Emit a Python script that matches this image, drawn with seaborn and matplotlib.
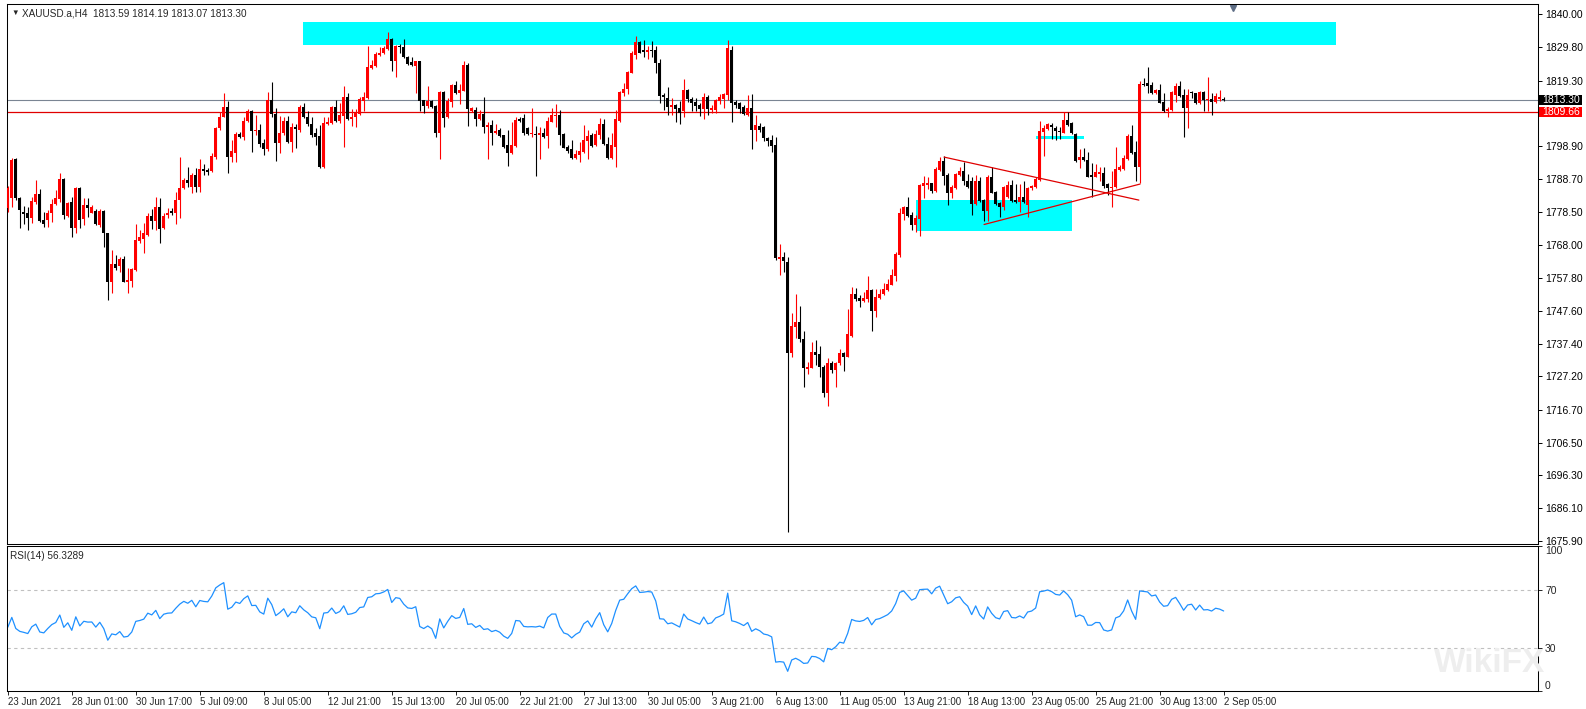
"""XAUUSD.a H4 candles with RSI(14), MetaTrader style."""

import matplotlib.pyplot as plt
import matplotlib.transforms as mtransforms
import numpy as np
import pandas as pd
import seaborn as sns
from matplotlib.patches import Rectangle

# H4 bars, 23 Jun 2021 .. 2 Sep 2021 05:00
opens = [
    1779.5, 1782.6, 1794.8, 1782.9, 1778.5, 1778.0, 1776.4, 1781.6, 1784.0, 1775.9,
    1775.9, 1778.0, 1780.9, 1782.5, 1788.7, 1777.1, 1781.6, 1773.5, 1786.0, 1776.1,
    1780.6, 1778.2, 1778.8, 1774.3, 1778.7, 1771.7, 1756.7, 1762.1, 1761.7, 1763.7,
    1756.7, 1756.9, 1760.3, 1769.5, 1770.1, 1771.2, 1777.1, 1775.7, 1780.1, 1773.5,
    1777.5, 1778.7, 1778.0, 1782.1, 1785.8, 1788.4, 1786.3, 1789.9, 1786.3, 1791.8,
    1791.5, 1791.3, 1795.6, 1804.5, 1807.9, 1811.2, 1795.6, 1796.7, 1802.7, 1801.8,
    1806.7, 1809.8, 1803.5, 1803.9, 1799.8, 1798.1, 1813.3, 1808.8, 1800.0, 1802.9,
    1806.7, 1800.3, 1804.9, 1803.9, 1811.2, 1807.9, 1805.8, 1802.9, 1802.0, 1792.5,
    1805.8, 1806.0, 1811.0, 1806.7, 1808.3, 1814.1, 1807.5, 1807.9, 1808.9, 1813.0,
    1813.8, 1823.4, 1823.9, 1827.2, 1827.8, 1829.2, 1832.3, 1825.5, 1830.2, 1829.7,
    1826.8, 1825.2, 1824.0, 1825.4, 1813.3, 1811.5, 1813.1, 1811.4, 1803.1, 1815.8,
    1807.9, 1812.8, 1817.9, 1815.6, 1816.2, 1824.2, 1810.0, 1810.2, 1807.3, 1808.9,
    1805.0, 1805.5, 1802.9, 1803.9, 1802.4, 1799.3, 1796.7, 1799.1, 1807.5, 1807.6,
    1804.5, 1802.6, 1802.7, 1802.5, 1802.9, 1802.1, 1806.5, 1808.4, 1808.6, 1802.7,
    1798.7, 1797.9, 1795.1, 1796.1, 1797.2, 1800.6, 1802.3, 1799.3, 1802.4, 1805.8,
    1799.6, 1795.1, 1798.7, 1806.8, 1815.6, 1816.6, 1821.8, 1827.4, 1831.3, 1828.9,
    1828.3, 1828.9, 1828.9, 1824.7, 1814.8, 1813.8, 1811.2, 1811.7, 1810.7, 1810.0,
    1816.4, 1813.5, 1812.8, 1811.7, 1810.5, 1814.1, 1810.2, 1810.2, 1813.1, 1813.6,
    1814.8, 1828.9, 1812.7, 1812.3, 1811.0, 1808.6, 1810.7, 1803.9, 1805.2, 1804.8,
    1801.3, 1800.8, 1799.2, 1763.9, 1764.4, 1762.9, 1734.6, 1742.5, 1744.2, 1738.7,
    1729.6, 1729.9, 1734.8, 1734.2, 1730.1, 1721.9, 1731.3, 1729.2, 1731.3, 1734.6,
    1733.3, 1739.8, 1752.8, 1751.7, 1750.8, 1751.3, 1754.1, 1747.7, 1751.5, 1752.8,
    1754.1, 1755.7, 1758.5, 1765.0, 1777.8, 1780.0, 1777.5, 1774.3, 1776.2, 1786.6,
    1786.8, 1787.3, 1785.0, 1791.5, 1794.4, 1789.9, 1784.4, 1785.8, 1789.9, 1791.3,
    1788.2, 1787.9, 1780.9, 1787.9, 1782.1, 1778.8, 1789.2, 1784.7, 1781.3, 1779.9,
    1783.0, 1786.8, 1782.1, 1781.6, 1783.2, 1780.6, 1785.8, 1786.1, 1788.4, 1803.4,
    1804.3, 1805.5, 1804.7, 1803.7, 1803.1, 1807.1, 1806.2, 1802.7, 1794.6, 1795.4,
    1794.6, 1789.9, 1789.4, 1790.2, 1790.4, 1787.1, 1785.8, 1786.1, 1791.5, 1791.7,
    1794.8, 1802.1, 1797.2, 1792.3, 1818.3, 1818.7, 1818.0, 1815.4, 1816.4, 1812.8,
    1810.0, 1810.2, 1814.8, 1817.7, 1814.8, 1810.7, 1815.9, 1815.6, 1812.3, 1815.9,
    1813.3, 1813.5, 1812.8, 1813.5, 1813.59,
]
highs = [
    1786.5, 1795.1, 1795.1, 1783.2, 1780.4, 1780.0, 1783.2, 1788.4, 1785.5, 1778.5,
    1779.0, 1782.5, 1785.3, 1790.4, 1789.0, 1781.6, 1783.2, 1786.3, 1786.3, 1782.9,
    1782.9, 1780.6, 1779.2, 1779.2, 1779.0, 1772.0, 1766.5, 1765.0, 1764.5, 1764.7,
    1760.8, 1760.8, 1774.7, 1772.8, 1775.0, 1778.0, 1779.2, 1783.2, 1782.9, 1778.0,
    1779.5, 1779.5, 1784.7, 1795.6, 1788.9, 1792.5, 1790.4, 1792.0, 1794.8, 1793.5,
    1792.0, 1796.7, 1805.0, 1809.6, 1815.6, 1813.1, 1800.8, 1803.4, 1803.4, 1808.1,
    1810.5, 1810.1, 1808.6, 1805.8, 1801.0, 1815.7, 1819.0, 1810.7, 1808.3, 1807.9,
    1808.3, 1806.0, 1805.8, 1811.7, 1812.5, 1809.8, 1807.9, 1804.5, 1805.5, 1808.1,
    1808.1, 1811.4, 1813.3, 1812.5, 1817.6, 1815.6, 1810.4, 1810.4, 1814.3, 1815.9,
    1830.1, 1825.9, 1828.3, 1829.9, 1830.1, 1834.5, 1832.5, 1830.3, 1830.7, 1832.3,
    1827.0, 1826.8, 1825.5, 1825.5, 1813.4, 1817.6, 1813.3, 1811.7, 1816.0, 1816.2,
    1813.8, 1818.3, 1819.3, 1818.3, 1825.5, 1824.9, 1811.2, 1811.0, 1810.2, 1814.1,
    1806.3, 1807.1, 1805.8, 1804.5, 1802.5, 1803.9, 1806.5, 1807.9, 1808.1, 1808.9,
    1805.0, 1810.7, 1805.2, 1805.0, 1804.5, 1807.9, 1810.7, 1811.9, 1810.2, 1803.1,
    1799.3, 1800.8, 1797.7, 1800.3, 1805.5, 1803.9, 1802.9, 1803.9, 1807.6, 1807.3,
    1801.9, 1802.9, 1810.2, 1816.0, 1818.5, 1822.4, 1828.6, 1833.2, 1831.6, 1832.0,
    1830.1, 1831.7, 1830.1, 1826.0, 1815.4, 1817.2, 1813.8, 1811.9, 1813.0, 1819.7,
    1816.7, 1814.1, 1813.8, 1812.3, 1815.4, 1814.8, 1811.7, 1813.5, 1815.2, 1815.4,
    1832.0, 1830.1, 1813.3, 1812.8, 1811.7, 1814.8, 1815.2, 1808.6, 1806.0, 1805.2,
    1801.9, 1802.4, 1801.9, 1768.4, 1766.0, 1764.5, 1746.8, 1752.8, 1749.1, 1741.4,
    1731.8, 1737.8, 1738.5, 1736.6, 1730.7, 1732.8, 1732.1, 1731.8, 1735.6, 1734.9,
    1748.1, 1754.9, 1754.6, 1752.5, 1753.6, 1758.5, 1754.3, 1754.3, 1754.3, 1756.2,
    1757.4, 1760.5, 1766.0, 1779.5, 1780.4, 1783.0, 1778.5, 1777.5, 1787.1, 1789.6,
    1789.2, 1787.5, 1792.5, 1795.6, 1795.8, 1790.4, 1786.8, 1790.4, 1792.3, 1794.1,
    1790.2, 1789.2, 1789.9, 1789.4, 1782.3, 1789.9, 1792.5, 1784.9, 1781.6, 1786.5,
    1788.2, 1788.4, 1787.1, 1787.1, 1787.9, 1786.1, 1786.8, 1789.4, 1806.7, 1805.5,
    1806.2, 1806.2, 1805.2, 1805.0, 1809.6, 1809.6, 1806.5, 1802.9, 1797.9, 1798.2,
    1797.2, 1793.8, 1793.4, 1792.3, 1792.3, 1787.3, 1791.3, 1798.5, 1793.0, 1796.2,
    1802.7, 1805.5, 1800.6, 1819.3, 1820.0, 1823.7, 1819.0, 1816.6, 1818.3, 1815.6,
    1811.2, 1816.2, 1818.5, 1819.3, 1816.6, 1816.6, 1816.2, 1815.6, 1816.2, 1816.0,
    1820.6, 1815.4, 1815.4, 1816.4, 1814.19,
]
lows = [
    1778.5, 1780.0, 1782.0, 1773.3, 1774.7, 1772.8, 1775.0, 1781.0, 1775.4, 1773.8,
    1773.8, 1775.4, 1780.6, 1781.6, 1776.2, 1776.9, 1770.7, 1772.0, 1773.3, 1774.3,
    1776.9, 1778.0, 1774.3, 1773.8, 1767.6, 1751.0, 1753.0, 1760.3, 1759.8, 1756.5,
    1753.3, 1754.9, 1760.0, 1768.6, 1765.7, 1771.0, 1773.0, 1772.8, 1768.6, 1773.2,
    1776.5, 1777.5, 1774.7, 1776.4, 1785.5, 1786.3, 1784.4, 1784.7, 1784.7, 1789.9,
    1790.0, 1791.0, 1794.8, 1804.0, 1807.9, 1790.4, 1794.1, 1794.1, 1801.3, 1800.8,
    1806.5, 1797.2, 1802.5, 1798.7, 1796.1, 1797.5, 1808.0, 1794.4, 1796.8, 1802.4,
    1799.8, 1797.2, 1798.4, 1803.4, 1807.6, 1805.2, 1801.8, 1799.3, 1792.0, 1792.0,
    1805.5, 1805.8, 1806.5, 1806.0, 1798.7, 1807.0, 1805.2, 1804.8, 1808.6, 1809.9,
    1813.6, 1823.1, 1823.7, 1827.0, 1827.6, 1828.9, 1822.4, 1820.5, 1828.0, 1826.3,
    1824.2, 1824.0, 1815.6, 1810.0, 1809.1, 1810.7, 1810.7, 1801.9, 1794.9, 1805.0,
    1807.6, 1811.0, 1815.3, 1812.0, 1816.0, 1805.2, 1809.7, 1805.2, 1807.1, 1802.9,
    1794.8, 1799.3, 1802.7, 1801.9, 1798.2, 1792.8, 1796.5, 1798.7, 1806.5, 1802.4,
    1802.3, 1801.9, 1789.7, 1794.8, 1801.6, 1798.4, 1806.3, 1804.8, 1799.3, 1798.2,
    1796.7, 1794.8, 1794.8, 1793.9, 1796.9, 1794.8, 1798.7, 1799.1, 1801.0, 1799.3,
    1794.9, 1794.9, 1792.5, 1806.5, 1814.5, 1815.1, 1821.6, 1826.0, 1827.8, 1826.8,
    1826.1, 1826.8, 1821.8, 1812.5, 1810.2, 1808.6, 1808.6, 1806.5, 1805.8, 1808.1,
    1812.8, 1809.9, 1810.0, 1808.4, 1807.3, 1808.6, 1809.1, 1809.1, 1812.0, 1810.9,
    1813.3, 1806.5, 1810.7, 1809.1, 1808.6, 1808.3, 1797.9, 1800.6, 1803.4, 1800.6,
    1799.0, 1797.2, 1763.4, 1758.8, 1759.8, 1678.8, 1733.3, 1739.0, 1738.0, 1724.0,
    1727.8, 1729.7, 1730.7, 1726.9, 1720.9, 1717.8, 1728.1, 1724.0, 1730.7, 1729.0,
    1733.1, 1739.6, 1750.8, 1748.9, 1750.5, 1750.5, 1741.4, 1745.6, 1751.3, 1752.5,
    1753.9, 1755.5, 1757.0, 1764.5, 1775.9, 1776.9, 1772.8, 1772.3, 1770.9, 1782.7,
    1785.5, 1784.4, 1784.7, 1791.3, 1786.8, 1780.6, 1782.7, 1785.6, 1789.6, 1786.8,
    1785.8, 1777.5, 1780.6, 1781.6, 1775.7, 1775.7, 1784.2, 1780.6, 1776.7, 1779.0,
    1782.7, 1781.6, 1781.3, 1778.5, 1781.3, 1776.7, 1785.4, 1785.8, 1788.2, 1795.8,
    1803.9, 1801.0, 1800.8, 1801.0, 1802.9, 1805.3, 1802.7, 1794.1, 1792.0, 1794.4,
    1789.2, 1783.0, 1789.2, 1787.9, 1785.8, 1783.7, 1780.1, 1785.8, 1791.3, 1791.5,
    1794.6, 1796.6, 1787.9, 1787.5, 1817.7, 1815.4, 1815.1, 1815.1, 1812.3, 1809.6,
    1807.9, 1810.0, 1812.8, 1814.3, 1801.9, 1804.5, 1813.8, 1812.0, 1812.0, 1810.0,
    1810.0, 1808.6, 1812.5, 1813.1, 1813.07,
]
closes = [
    1785.8, 1794.6, 1782.6, 1779.0, 1777.8, 1776.4, 1781.8, 1784.0, 1775.7, 1774.7,
    1778.0, 1781.0, 1782.6, 1788.7, 1777.5, 1781.3, 1773.5, 1786.0, 1775.9, 1780.6,
    1779.7, 1779.8, 1774.5, 1778.7, 1772.0, 1756.7, 1762.2, 1761.0, 1763.7, 1756.7,
    1757.2, 1760.6, 1769.7, 1770.5, 1771.7, 1777.1, 1775.7, 1779.8, 1773.2, 1777.1,
    1778.0, 1778.2, 1782.1, 1785.8, 1788.4, 1787.3, 1789.9, 1786.3, 1791.7, 1791.2,
    1791.0, 1795.9, 1804.5, 1808.1, 1811.2, 1795.6, 1797.5, 1802.7, 1801.8, 1806.7,
    1809.8, 1803.7, 1803.9, 1799.6, 1798.1, 1813.3, 1808.8, 1800.0, 1802.9, 1806.7,
    1800.1, 1804.8, 1804.1, 1811.0, 1807.9, 1805.7, 1802.5, 1801.8, 1792.5, 1806.0,
    1806.5, 1811.0, 1806.7, 1808.5, 1814.1, 1807.4, 1808.0, 1809.3, 1813.5, 1814.1,
    1823.5, 1824.3, 1827.6, 1828.0, 1829.6, 1832.3, 1825.5, 1830.1, 1829.7, 1826.6,
    1824.5, 1824.2, 1825.4, 1813.1, 1811.5, 1813.0, 1811.0, 1803.1, 1815.8, 1807.8,
    1813.0, 1817.9, 1815.6, 1816.4, 1824.2, 1810.4, 1810.9, 1807.3, 1808.9, 1805.0,
    1805.5, 1802.9, 1803.7, 1802.1, 1798.7, 1796.7, 1799.3, 1807.1, 1806.8, 1802.9,
    1802.6, 1802.7, 1802.5, 1802.9, 1801.9, 1806.8, 1808.6, 1808.6, 1802.4, 1798.4,
    1797.5, 1795.1, 1796.5, 1797.4, 1800.8, 1802.1, 1799.0, 1802.7, 1805.8, 1799.6,
    1795.1, 1799.3, 1807.4, 1815.9, 1816.7, 1822.1, 1827.8, 1831.3, 1828.0, 1828.3,
    1828.9, 1828.7, 1824.7, 1814.5, 1814.3, 1811.2, 1811.7, 1810.4, 1809.1, 1816.4,
    1813.5, 1812.5, 1811.4, 1810.5, 1814.1, 1810.4, 1810.9, 1813.3, 1814.1, 1815.2,
    1829.4, 1812.5, 1811.7, 1810.4, 1808.8, 1810.7, 1803.9, 1805.4, 1803.9, 1801.3,
    1800.6, 1799.1, 1764.0, 1764.3, 1763.2, 1734.6, 1742.9, 1744.2, 1738.7, 1729.9,
    1730.2, 1734.8, 1733.9, 1730.0, 1722.1, 1731.5, 1729.2, 1731.3, 1734.6, 1733.3,
    1740.4, 1752.8, 1751.3, 1750.8, 1751.7, 1754.1, 1747.7, 1752.0, 1752.8, 1754.3,
    1755.9, 1758.8, 1765.3, 1778.0, 1780.0, 1777.2, 1774.3, 1776.4, 1786.8, 1787.3,
    1787.5, 1785.0, 1791.8, 1794.4, 1789.6, 1784.4, 1786.3, 1790.2, 1791.3, 1788.2,
    1786.1, 1780.9, 1787.9, 1781.9, 1778.8, 1789.2, 1784.4, 1780.9, 1779.9, 1786.1,
    1786.8, 1781.9, 1781.6, 1783.0, 1781.6, 1785.8, 1786.5, 1788.6, 1803.7, 1804.5,
    1805.8, 1805.0, 1803.7, 1803.4, 1807.1, 1805.5, 1803.1, 1794.4, 1795.6, 1794.6,
    1789.4, 1789.4, 1790.8, 1790.7, 1786.5, 1785.8, 1786.3, 1791.7, 1792.5, 1795.3,
    1802.1, 1796.9, 1792.3, 1818.3, 1818.0, 1817.7, 1815.4, 1816.4, 1812.5, 1810.0,
    1810.5, 1815.9, 1817.7, 1814.5, 1810.7, 1814.8, 1815.4, 1812.3, 1815.9, 1813.3,
    1813.5, 1812.8, 1814.5, 1814.1, 1813.30,
]

date_labels = [
    "23 Jun 2021", "28 Jun 01:00", "30 Jun 17:00", "5 Jul 09:00", "8 Jul 05:00",
    "12 Jul 21:00", "15 Jul 13:00", "20 Jul 05:00", "22 Jul 21:00", "27 Jul 13:00",
    "30 Jul 05:00", "3 Aug 21:00", "6 Aug 13:00", "11 Aug 05:00", "13 Aug 21:00",
    "18 Aug 13:00", "23 Aug 05:00", "25 Aug 21:00", "30 Aug 13:00", "2 Sep 05:00",
]
price_ticks = [
    1840.00, 1829.80, 1819.30, 1798.90, 1788.70, 1778.50, 1768.00, 1757.80,
    1747.60, 1737.40, 1727.20, 1716.70, 1706.50, 1696.30, 1686.10, 1675.90,
]
rsi_ticks = [0, 30, 70, 100]
rsi_levels = [30, 70]
rsi_period = 14

bid_price = 1813.30
hline_price = 1809.66

# drawn objects: [bar_from, bar_to, price_low, price_high]
top_zone = [73.9, 332.0, 1830.4, 1837.7]
support_zone = [227.0, 266.0, 1772.5, 1782.1]
small_zone = [257.0, 269.0, 1801.2, 1802.0]
# trendlines: [bar_from, bar_to, price_from, price_to]
upper_trend = [234.1, 282.8, 1795.5, 1782.1]
lower_trend = [244.1, 283.1, 1774.5, 1787.1]

W, H = 1586, 709
BULL, BEAR = "#FF0000", "#000000"

sns.set_style("white")
plt.rcParams["font.family"] = ["Liberation Sans", "DejaVu Sans"]
plt.rcParams["axes.linewidth"] = 0.75

df = pd.DataFrame({"open": opens, "high": highs, "low": lows, "close": closes})
df["bar"] = np.arange(len(df))
colors = np.where(df["close"] > df["open"], BULL, BEAR)

# RSI(14), Wilder smoothing; averages warmed up on the first 14 moves
deltas = np.diff(df["close"].to_numpy())
gains = np.clip(deltas, 0, None)
losses = np.clip(-deltas, 0, None)
avg_gain = gains[:rsi_period].mean()
avg_loss = losses[:rsi_period].mean()
rsi = []
for i in range(len(df)):
    if i > 0:
        avg_gain = (avg_gain * (rsi_period - 1) + gains[i - 1]) / rsi_period
        avg_loss = (avg_loss * (rsi_period - 1) + losses[i - 1]) / rsi_period
    rsi.append(100 - 100 / (1 + avg_gain / avg_loss))
df["rsi"] = rsi

fig = plt.figure(figsize=(W / 100, H / 100), dpi=100)
ax = fig.add_axes([7 / W, (H - 544) / H, 1531 / W, 540 / H])
ax_rsi = fig.add_axes([7 / W, (H - 691) / H, 1531 / W, 145 / H], sharex=ax)

# zones and drawn objects
for x0, x1, y0, y1 in (top_zone, support_zone, small_zone):
    ax.fill_between([x0, x1], y0, y1, color="#00FFFF", linewidth=0, zorder=1)

ax.axhline(bid_price, color="#7A8593", linewidth=0.8, zorder=2)
ax.axhline(hline_price, color="#E00000", linewidth=0.9, zorder=2)

# candles
ax.vlines(df["bar"], df["low"], df["high"], colors=colors, linewidth=0.8, zorder=3)
body_low = df[["open", "close"]].min(axis=1)
body_h = (df["close"] - df["open"]).abs().clip(lower=0.3)
ax.bar(df["bar"], body_h, bottom=body_low, width=0.78, color=colors,
       linewidth=0, zorder=4)

for x0, x1, y0, y1 in (upper_trend, lower_trend):
    ax.plot([x0, x1], [y0, y1], color="#E00000", linewidth=0.9, zorder=5)

ax.set_xlim(-0.2, 382.6)
ax.set_ylim(1674.95, 1843.2)
ax.yaxis.tick_right()
ax.set_yticks(price_ticks)
ax.set_yticklabels([f"{v:.2f}" for v in price_ticks])
ax.tick_params(axis="y", right=True, left=False, length=3, width=0.7, pad=2,
               labelsize=7.5, colors="black")
ax.tick_params(axis="x", bottom=False, labelbottom=False)

# price labels on the scale
trans = mtransforms.blended_transform_factory(ax.transAxes, ax.transData)
for price, face in ((bid_price, "#000000"), (hline_price, "#FF0000")):
    ax.add_patch(Rectangle((1.0005, price - 1.55), 43 / 1531, 3.1, transform=trans,
                           facecolor=face, edgecolor="none", clip_on=False))
    ax.text(1.0005 + 3 / 1531, price, f"{price:.2f}", transform=trans,
            color="white", fontsize=7.5, va="center", ha="left")

# chart shift marker
ax.plot([len(df) + 1.4], [0.992], marker="v", markersize=5, color="#5E6E86",
        transform=mtransforms.blended_transform_factory(ax.transData, ax.transAxes),
        clip_on=False)

fig.text(11 / W, 1 - 13.5 / H, "\u25BC", fontsize=5.5, va="center", ha="left")
fig.text(22 / W, 1 - 13.5 / H, "XAUUSD.a,H4  1813.59 1814.19 1813.07 1813.30",
         fontsize=7.2, va="center", ha="left")

# RSI panel
for lvl in rsi_levels:
    ax_rsi.axhline(lvl, color="#C0C0C0", linewidth=0.8, linestyle=(0, (3, 3)))
sns.lineplot(data=df, x="bar", y="rsi", ax=ax_rsi, color="#1E90FF",
             linewidth=0.9)
ax_rsi.set_ylim(0, 100)
ax_rsi.set_xlabel("")
ax_rsi.set_ylabel("")
ax_rsi.yaxis.tick_right()
ax_rsi.set_yticks(rsi_ticks)
ax_rsi.set_yticklabels([str(v) for v in rsi_ticks])
ax_rsi.tick_params(axis="y", right=True, left=False, length=3, width=0.7, pad=2,
                   labelsize=7.5)
ylabels = ax_rsi.get_yticklabels()
ylabels[0].set_verticalalignment("bottom")
ylabels[-1].set_verticalalignment("top")

ax_rsi.set_xticks(np.arange(0, len(df), 16))
ax_rsi.set_xticklabels(date_labels)
ax_rsi.tick_params(axis="x", bottom=True, length=3, width=0.7, pad=1.5,
                   labelsize=7)
for lbl in ax_rsi.get_xticklabels():
    lbl.set_horizontalalignment("left")
ax_rsi.text(0.002, 0.93, "RSI(14) 56.3289", transform=ax_rsi.transAxes,
            fontsize=7.2, va="center", ha="left")

for a in (ax, ax_rsi):
    for s in a.spines.values():
        s.set_color("black")
        s.set_visible(True)

# faint watermark
fig.text(1490 / W, 1 - 663 / H, "WikiFX", fontsize=24, fontweight="bold",
         color="#EEEEEE", va="center", ha="center", zorder=0)

fig.savefig("out.png", dpi=100)
